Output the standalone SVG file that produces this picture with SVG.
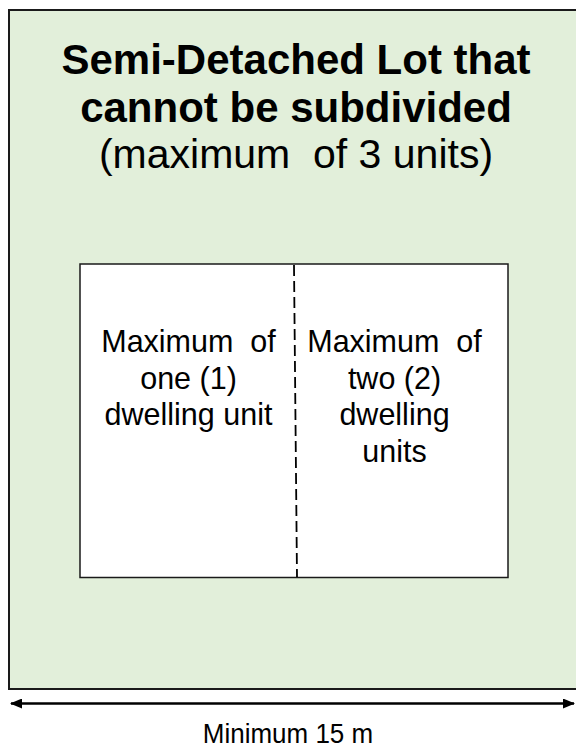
<svg xmlns="http://www.w3.org/2000/svg" width="576" height="750" viewBox="0 0 576 750">
<style>
.t{font-family:"Liberation Sans",Arial,sans-serif;fill:#000;text-anchor:middle;white-space:pre}
.b{font-weight:bold;font-size:42px}
.r{font-size:41px}
.u{font-size:30.5px}
</style>
<defs>
<marker id="ah" viewBox="0 0 12 10" refX="11" refY="5" markerWidth="12" markerHeight="10" markerUnits="userSpaceOnUse" orient="auto-start-reverse">
<path d="M0,0 L12,5 L0,10 Z" fill="#000"/>
</marker>
</defs>
<rect width="576" height="750" fill="#fff"/>
<g id="lot">
<rect x="9" y="10" width="575" height="679" fill="#e2efda" stroke="#1a1a1a" stroke-width="2"/>
<text class="t b" x="296" y="74">Semi-Detached Lot that</text>
<text class="t b" x="296" y="122">cannot be subdivided</text>
<text class="t r" x="296" y="168" xml:space="preserve">(maximum  of 3 units)</text>
</g>
<g id="building">
<rect x="80" y="264" width="428" height="313.5" fill="#fff" stroke="#1a1a1a" stroke-width="1.5"/>
<text class="t u" x="188.5" y="352" xml:space="preserve">Maximum  of</text>
<text class="t u" x="188.5" y="388.5">one (1)</text>
<text class="t u" x="188.5" y="425">dwelling unit</text>
<text class="t u" x="394.5" y="352" xml:space="preserve">Maximum  of</text>
<text class="t u" x="394.5" y="388.5">two (2)</text>
<text class="t u" x="394.5" y="425">dwelling</text>
<text class="t u" x="394.5" y="461.5">units</text>
</g>
<g id="connectors">
<line x1="294" y1="265" x2="297" y2="577" stroke="#000" stroke-width="1.8" stroke-dasharray="11,5"/>
<line x1="11" y1="703.5" x2="574" y2="703.5" stroke="#000" stroke-width="2.5" marker-start="url(#ah)" marker-end="url(#ah)"/>
</g>
<g id="dimension">
<text class="t" transform="translate(288,743) scale(1,1.08)" style="font-size:26px">Minimum 15 m</text>
</g>
</svg>
